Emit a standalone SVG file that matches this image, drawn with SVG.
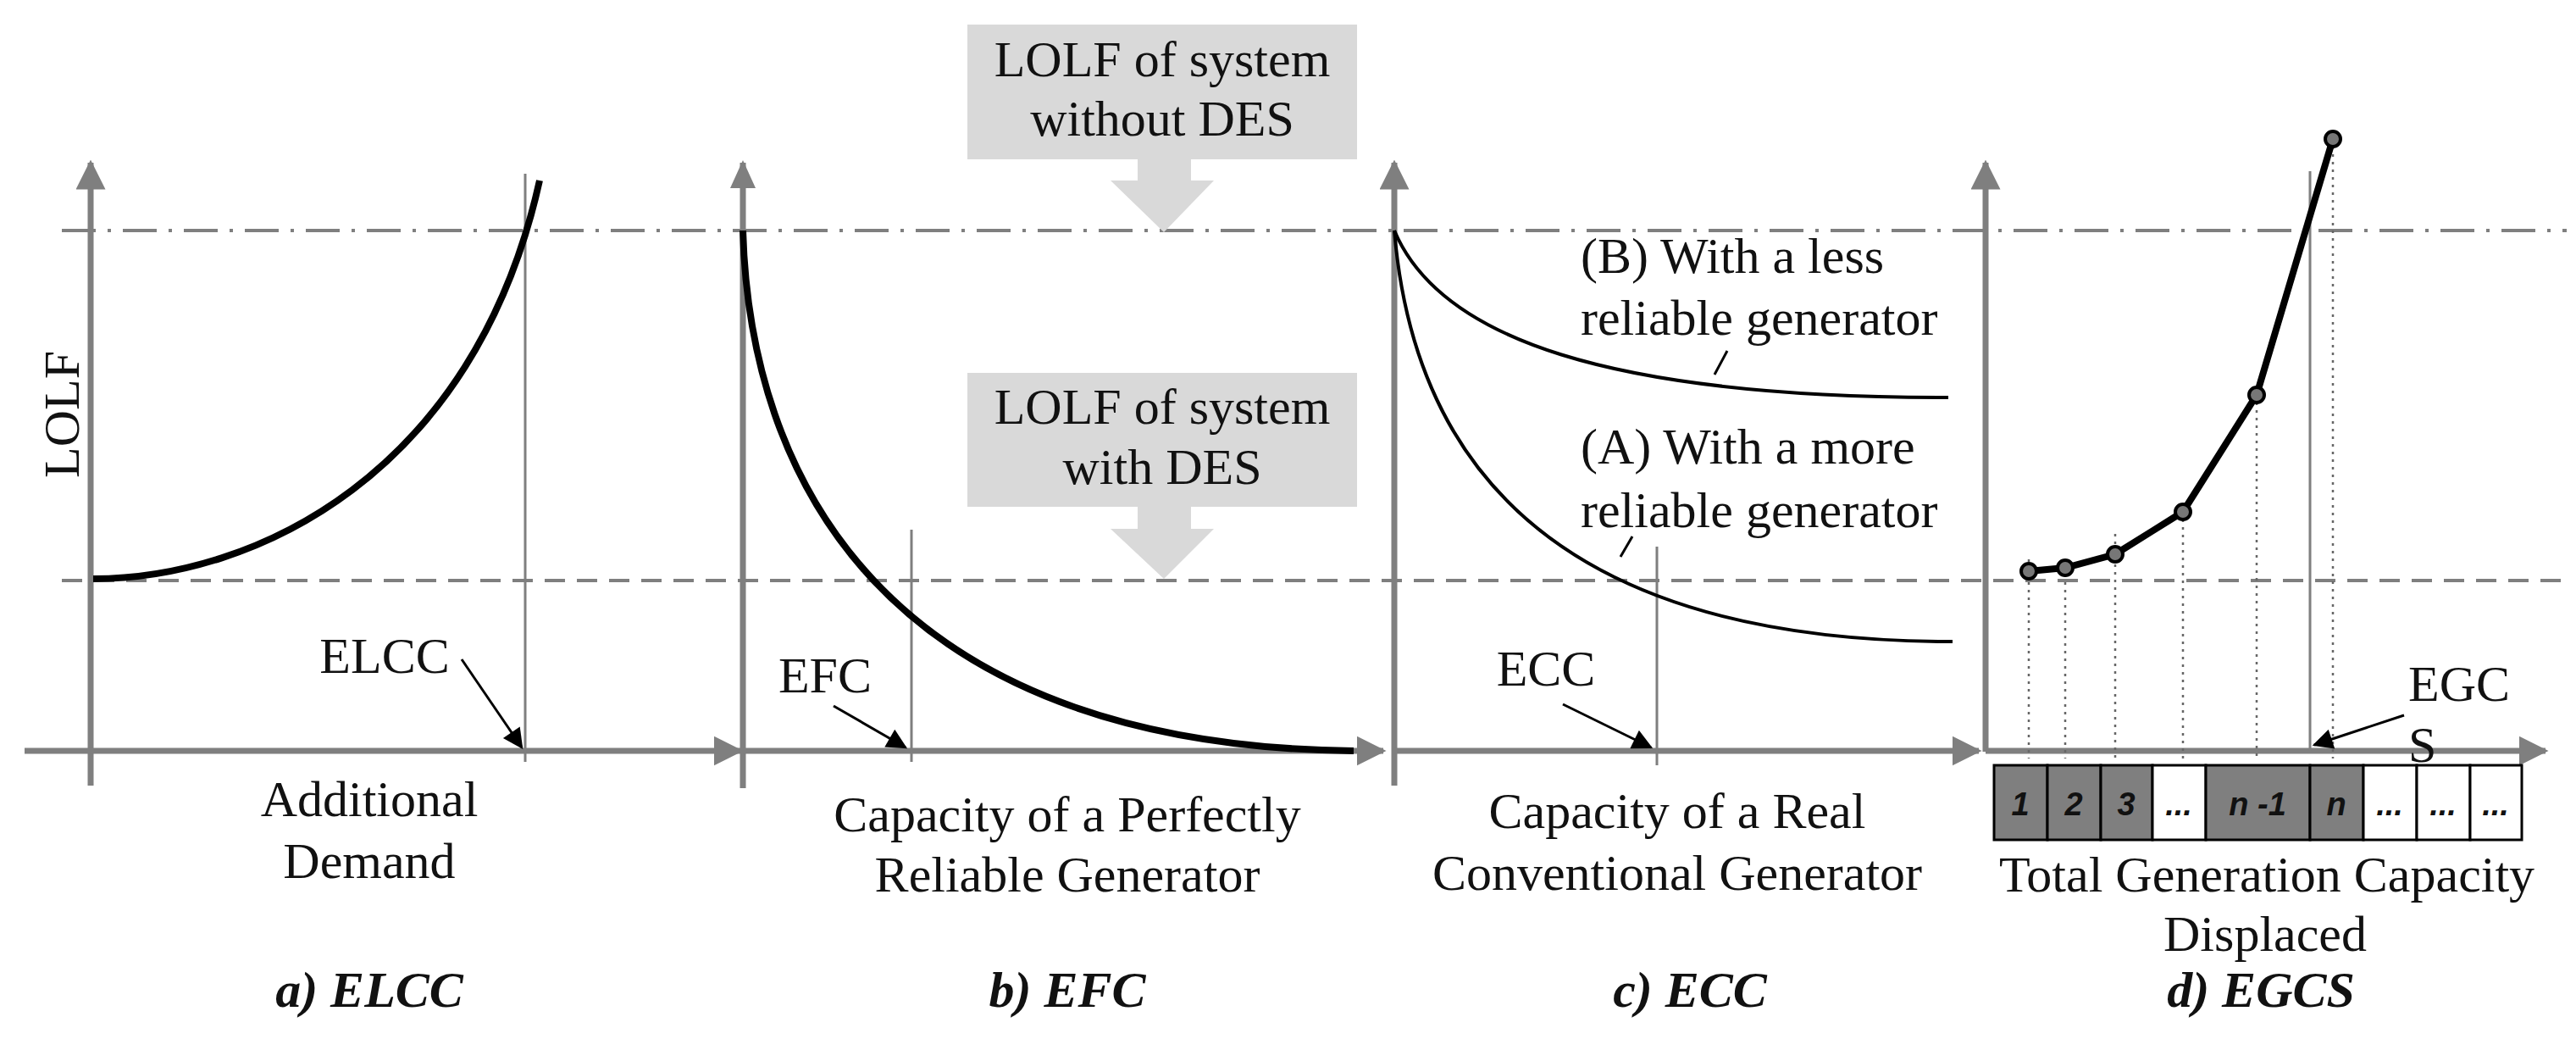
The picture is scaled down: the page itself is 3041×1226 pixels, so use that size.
<svg xmlns="http://www.w3.org/2000/svg" width="3041" height="1226" viewBox="0 0 3041 1226">
<style>
text{font-family:"Liberation Serif","Times New Roman",serif;font-size:60px;fill:#111}
.ax{stroke:#7f7f7f;stroke-width:7;fill:none}
.vl{stroke:#7f7f7f;stroke-width:3;fill:none}
.cv{stroke:#000;stroke-width:8;fill:none}
.th{stroke:#000;stroke-width:4;fill:none}
.ld{stroke:#000;stroke-width:3;fill:none}
.dd{stroke:#7f7f7f;stroke-width:4;fill:none;stroke-dasharray:40 14 4 14}
.ds{stroke:#7f7f7f;stroke-width:4;fill:none;stroke-dasharray:24 14}
.dt{stroke:#666;stroke-width:2.5;fill:none;stroke-dasharray:3 6}
.cap{font-style:italic;font-weight:bold}
.cell{stroke:#000;stroke-width:3}
.ct{font-family:"Liberation Sans",Arial,sans-serif;font-size:38px;font-weight:bold;font-style:italic}
.pt{fill:#777;stroke:#000;stroke-width:4}
</style>
<defs>
<marker id="ga" viewBox="0 0 10 10" refX="9" refY="5" markerWidth="5" markerHeight="5" orient="auto" markerUnits="strokeWidth"><path d="M0,0L10,5L0,10z" fill="#7f7f7f"/></marker>
<marker id="ba" viewBox="0 0 10 10" refX="9" refY="5" markerWidth="9" markerHeight="8" orient="auto" markerUnits="strokeWidth"><path d="M0,0L10,5L0,10z" fill="#000"/></marker>
</defs>
<g id="guides">
<line class="dd" x1="73" y1="272" x2="3030" y2="272"/>
<line class="ds" x1="73" y1="685" x2="3030" y2="685"/>
</g>
<g id="callout-without">
<rect x="1142" y="29" width="460" height="159" fill="#d9d9d9"/>
<path d="M1343,188H1406V213H1433L1374,274L1311,213H1343z" fill="#d9d9d9"/>
<text x="1372" y="90" text-anchor="middle">LOLF of system</text>
<text x="1372" y="160" text-anchor="middle">without DES</text>
</g>
<g id="callout-with">
<rect x="1142" y="440" width="460" height="158" fill="#d9d9d9"/>
<path d="M1343,598H1406V624H1433L1374,683L1311,624H1343z" fill="#d9d9d9"/>
<text x="1372" y="500" text-anchor="middle">LOLF of system</text>
<text x="1372" y="571" text-anchor="middle">with DES</text>
</g>
<g id="panel-a">
<line class="ax" x1="107" y1="927" x2="107" y2="192" marker-end="url(#ga)"/>
<line class="ax" x1="29" y1="886" x2="874" y2="886" marker-end="url(#ga)"/>
<line class="vl" x1="620" y1="205" x2="620" y2="899"/>
<path class="cv" d="M110,683C300,683 560,560 637,213"/>
<text x="454" y="794" text-anchor="middle">ELCC</text>
<line class="ld" x1="545" y1="778" x2="616" y2="882" marker-end="url(#ba)"/>
<text transform="translate(93,489) rotate(-90)" text-anchor="middle">LOLF</text>
<text x="436" y="963" text-anchor="middle">Additional</text>
<text x="436" y="1036" text-anchor="middle">Demand</text>
<text class="cap" x="436" y="1188" text-anchor="middle">a) ELCC</text>
</g>
<g id="panel-b">
<line class="ax" x1="877" y1="930" x2="877" y2="192"/>
<path d="M862,222L877,189L892,222z" fill="#7f7f7f"/>
<line class="ax" x1="877" y1="886" x2="1633" y2="886" marker-end="url(#ga)"/>
<line class="vl" x1="1076" y1="625" x2="1076" y2="899"/>
<path class="cv" d="M877,272C885,560 1040,880 1598,886"/>
<text x="974" y="817" text-anchor="middle">EFC</text>
<line class="ld" x1="984" y1="833" x2="1069" y2="882" marker-end="url(#ba)"/>
<text x="1260" y="981" text-anchor="middle">Capacity of a Perfectly</text>
<text x="1260" y="1052" text-anchor="middle">Reliable Generator</text>
<text class="cap" x="1260" y="1188" text-anchor="middle">b) EFC</text>
</g>
<g id="panel-c">
<line class="ax" x1="1646" y1="927" x2="1646" y2="192" marker-end="url(#ga)"/>
<line class="ax" x1="1646" y1="886" x2="2336" y2="886" marker-end="url(#ga)"/>
<line class="vl" x1="1956" y1="645" x2="1956" y2="903"/>
<path class="th" d="M1646,272C1700,400 1900,469 2300,469"/>
<path class="th" d="M1646,272C1670,560 1850,757 2305,757"/>
<line class="ld" x1="2024" y1="442" x2="2039" y2="414"/>
<line class="ld" x1="1913" y1="657" x2="1927" y2="633"/>
<text x="1866" y="322">(B) With a less</text>
<text x="1866" y="395">reliable generator</text>
<text x="1866" y="547">(A) With a more</text>
<text x="1866" y="622">reliable generator</text>
<text x="1825" y="809" text-anchor="middle">ECC</text>
<line class="ld" x1="1845" y1="831" x2="1949" y2="882" marker-end="url(#ba)"/>
<text x="1980" y="977" text-anchor="middle">Capacity of a Real</text>
<text x="1980" y="1050" text-anchor="middle">Conventional Generator</text>
<text class="cap" x="1995" y="1188" text-anchor="middle">c) ECC</text>
</g>
<g id="panel-d">
<line class="ax" x1="2344" y1="887" x2="2344" y2="192" marker-end="url(#ga)"/>
<line class="ax" x1="2344" y1="886" x2="3005" y2="886" marker-end="url(#ga)"/>
<line class="vl" x1="2727" y1="202" x2="2727" y2="886"/>
<g id="dots">
<line class="dt" x1="2395" y1="660" x2="2395" y2="895"/>
<line class="dt" x1="2438" y1="660" x2="2438" y2="895"/>
<line class="dt" x1="2497" y1="630" x2="2497" y2="895"/>
<line class="dt" x1="2577" y1="604" x2="2577" y2="895"/>
<line class="dt" x1="2664" y1="466" x2="2664" y2="895"/>
<line class="dt" x1="2754" y1="164" x2="2754" y2="895"/>
</g>
<polyline class="cv" points="2395,674 2438,670 2497,654 2577,604 2664,466 2754,164"/>
<circle class="pt" cx="2395" cy="674" r="9"/>
<circle class="pt" cx="2438" cy="670" r="9"/>
<circle class="pt" cx="2497" cy="654" r="9"/>
<circle class="pt" cx="2577" cy="604" r="9"/>
<circle class="pt" cx="2664" cy="466" r="9"/>
<circle class="pt" cx="2754" cy="164" r="9"/>
<g id="cells">
<rect class="cell" x="2354" y="903" width="63" height="88" fill="#7f7f7f"/>
<rect class="cell" x="2417" y="903" width="63" height="88" fill="#7f7f7f"/>
<rect class="cell" x="2480" y="903" width="61" height="88" fill="#7f7f7f"/>
<rect class="cell" x="2541" y="903" width="63" height="88" fill="#fff"/>
<rect class="cell" x="2604" y="903" width="123" height="88" fill="#7f7f7f"/>
<rect class="cell" x="2727" y="903" width="63" height="88" fill="#7f7f7f"/>
<rect class="cell" x="2790" y="903" width="63" height="88" fill="#fff"/>
<rect class="cell" x="2853" y="903" width="63" height="88" fill="#fff"/>
<rect class="cell" x="2916" y="903" width="61" height="88" fill="#fff"/>
<text class="ct" x="2385" y="962" text-anchor="middle">1</text>
<text class="ct" x="2448" y="962" text-anchor="middle">2</text>
<text class="ct" x="2510" y="962" text-anchor="middle">3</text>
<text class="ct" x="2572" y="962" text-anchor="middle">...</text>
<text class="ct" x="2665" y="962" text-anchor="middle">n -1</text>
<text class="ct" x="2758" y="962" text-anchor="middle">n</text>
<text class="ct" x="2821" y="962" text-anchor="middle">...</text>
<text class="ct" x="2884" y="962" text-anchor="middle">...</text>
<text class="ct" x="2946" y="962" text-anchor="middle">...</text>
</g>
<text x="2843" y="827">EGC</text>
<text x="2843" y="899">S</text>
<line class="ld" x1="2838" y1="844" x2="2732" y2="879" marker-end="url(#ba)"/>
<text x="2676" y="1052" text-anchor="middle">Total Generation Capacity</text>
<text x="2674" y="1122" text-anchor="middle">Displaced</text>
<text class="cap" x="2669" y="1188" text-anchor="middle">d) EGCS</text>
</g>
</svg>
